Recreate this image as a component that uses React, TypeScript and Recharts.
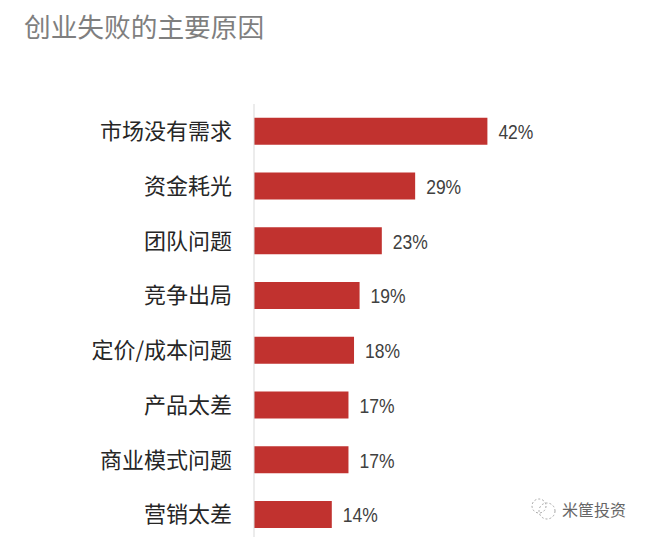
import { Bar, BarChart, LabelList, XAxis, YAxis } from 'recharts'

const REASONS = [
  '市场没有需求',
  '资金耗光',
  '团队问题',
  '竞争出局',
  '定价/成本问题',
  '产品太差',
  '商业模式问题',
  '营销太差',
]
const SHARES = [42, 29, 23, 19, 18, 17, 17, 14]

const data = REASONS.map((reason, i) => ({ reason, share: SHARES[i] }))

const CJK = '"Noto Sans CJK SC", "Noto Sans", sans-serif'

// the original's percent labels are condensed, no narrow font is installed
function ShareLabel(props: any): React.JSX.Element {
  const { x, y, width, height, value } = props
  return (
    <text
      x={x + width + 11}
      y={y + height / 2 + 8}
      fontSize={21}
      fill="#404040"
      fontFamily='"Liberation Sans", sans-serif'
      textLength={35}
      lengthAdjust="spacingAndGlyphs"
    >
      {`${value}%`}
    </text>
  )
}

export default function App(): React.JSX.Element {
  return (
    <div
      style={{
        position: 'absolute',
        left: 0,
        top: 0,
        width: 646,
        height: 537,
        overflow: 'hidden',
        background: '#fff',
      }}
    >
      <div
        style={{
          position: 'absolute',
          left: 24,
          top: 9,
          fontFamily: CJK,
          fontSize: 26.7,
          lineHeight: '34px',
          color: '#7f7f7f',
          whiteSpace: 'nowrap',
        }}
      >
        创业失败的主要原因
      </div>
      <BarChart
        width={646}
        height={560}
        data={data}
        layout="vertical"
        barCategoryGap="25%"
        margin={{ top: 104, right: 3, bottom: 18, left: 0 }}
      >
        <XAxis type="number" domain={[0, 70]} hide />
        <YAxis
          type="category"
          dataKey="reason"
          width={254}
          interval={0}
          tickLine={false}
          tickMargin={16}
          axisLine={{ stroke: '#d9d9d9', strokeWidth: 1 }}
          tick={{ fontSize: 22, fill: '#262626', fontFamily: CJK }}
        />
        <Bar dataKey="share" fill="#c1322f" isAnimationActive={false}>
          <LabelList dataKey="share" content={ShareLabel} />
        </Bar>
      </BarChart>
      <svg
        width={28}
        height={24}
        style={{ position: 'absolute', left: 530, top: 497 }}
        fill="none"
        stroke="#a8a8a8"
        strokeWidth={1}
        strokeDasharray="2 2"
      >
        <circle cx={9} cy={9} r={7} />
        <circle cx={17} cy={14} r={8} />
      </svg>
      <div
        style={{
          position: 'absolute',
          left: 562,
          top: 498,
          fontFamily: CJK,
          fontSize: 16,
          lineHeight: '22px',
          color: '#666',
          whiteSpace: 'nowrap',
        }}
      >
        米筐投资
      </div>
    </div>
  )
}
